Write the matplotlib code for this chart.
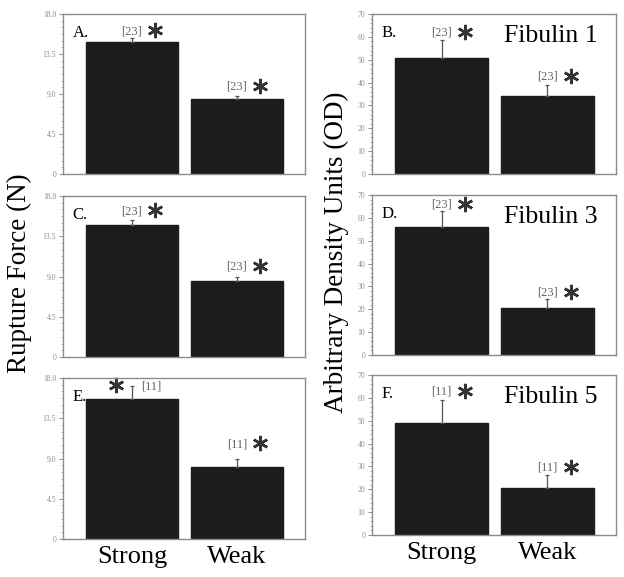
import matplotlib
matplotlib.use('Agg')
import matplotlib.pyplot as plt
from matplotlib.ticker import MultipleLocator, FixedLocator
from matplotlib.transforms import offset_copy

plt.rcParams['font.family'] = ['Liberation Serif', 'DejaVu Serif']

groups = ['Strong', 'Weak']

# rupture force (N), left column
force_a = [14.8, 8.4]
force_a_err = [0.5, 0.4]
force_c = [14.8, 8.5]
force_c_err = [0.5, 0.4]
force_e = [15.7, 8.1]
force_e_err = [1.4, 0.8]

# fibulin densities (OD), right column
fib1 = [50.7, 34.1]
fib1_err = [8.0, 5.0]
fib3 = [55.9, 20.7]
fib3_err = [7.0, 4.0]
fib5 = [49.1, 20.4]
fib5_err = [10.0, 6.0]

n_a = ['[23]', '[23]']
n_c = ['[23]', '[23]']
n_e = ['[11]', '[11]']
n_b = ['[23]', '[23]']
n_d = ['[23]', '[23]']
n_f = ['[11]', '[11]']

force_ticks = [0, 4.5, 9.0, 13.5, 18.0]
force_ticklabels = ['0', '4.5', '9.0', '13.5', '18.0']
od_ticks = [0, 10, 20, 30, 40, 50, 60, 70]

W, H = 624, 577
fig = plt.figure(figsize=(W / 100, H / 100), dpi=100)

def box(x0, top, x1, bottom):
    return [x0 / W, 1 - bottom / H, (x1 - x0) / W, (bottom - top) / H]

GRAY = '#8c8c8c'
BAR = '#1c1c1c'

def panel(rect, vals, errs, ns, letter, ymax, ticks, ticklabels, minor,
          title=None, star_left=False, offs=(5, 5), show_x=False):
    ax = fig.add_axes(rect)
    x = [0, 1]
    ax.bar(x, vals, width=0.876, color=BAR, edgecolor=BAR, zorder=2)
    ax.errorbar(x, vals, yerr=[[0, 0], errs], fmt='none', ecolor='#555555',
                elinewidth=0.9, capsize=1.5, capthick=0.9, zorder=3)
    ax.set_xlim(-0.657, 1.648)
    ax.set_ylim(0, ymax)
    ax.yaxis.set_major_locator(FixedLocator(ticks))
    ax.set_yticklabels(ticklabels)
    ax.yaxis.set_minor_locator(MultipleLocator(minor))
    ax.tick_params(axis='y', which='major', direction='out', length=3,
                   width=0.7, color=GRAY, labelsize=5.5, labelcolor=GRAY, pad=2)
    ax.tick_params(axis='y', which='minor', direction='out', length=1.5,
                   width=0.5, color=GRAY)
    ax.set_xticks(x)
    ax.tick_params(axis='x', length=0, pad=5)
    if show_x:
        ax.set_xticklabels(groups, fontsize=19)
    else:
        ax.set_xticklabels([])
    for s in ax.spines.values():
        s.set_color(GRAY)
        s.set_linewidth(1.0)
    ax.text(0.04, 0.88, letter, transform=ax.transAxes, fontsize=12,
            va='center', ha='left')
    if title:
        ax.text(0.925, 0.865, title, transform=ax.transAxes, fontsize=18.5,
                va='center', ha='right')
    for i in range(2):
        top = vals[i] + errs[i]
        if star_left and i == 0:
            nx_, sx = x[i] + 0.18, x[i] - 0.15
        else:
            nx_, sx = x[i], x[i] + 0.22
        ax.annotate(ns[i], (nx_, top), xytext=(0, offs[i]),
                    textcoords='offset points', ha='center', va='center',
                    fontsize=9, color='#666666')
        tr = offset_copy(ax.transData, fig=fig, x=0, y=offs[i] + 0.5,
                         units='points')
        ax.plot([sx], [top], transform=tr, marker=(6, 2, 0), markersize=11,
                mew=1.8, color='#333333', linestyle='none', clip_on=False)
    return ax

panel(box(63, 14, 305, 174), force_a, force_a_err, n_a, 'A.', 18,
      force_ticks, force_ticklabels, 0.75, offs=(5, 6.5))
panel(box(63, 196, 305, 357), force_c, force_c_err, n_c, 'C.', 18,
      force_ticks, force_ticklabels, 0.75, offs=(6.5, 7.5))
panel(box(63, 378, 305, 539), force_e, force_e_err, n_e, 'E.', 18,
      force_ticks, force_ticklabels, 0.75, star_left=True, offs=(0, 11),
      show_x=True)

od_labels = [str(t) for t in od_ticks]
panel(box(372, 14, 616, 174), fib1, fib1_err, n_b, 'B.', 70,
      od_ticks, od_labels, 2, title='Fibulin 1', offs=(5, 6))
panel(box(372, 195, 616, 355), fib3, fib3_err, n_d, 'D.', 70,
      od_ticks, od_labels, 2, title='Fibulin 3', offs=(4.5, 4.5))
panel(box(372, 375, 616, 535), fib5, fib5_err, n_f, 'F.', 70,
      od_ticks, od_labels, 2, title='Fibulin 5', show_x=True, offs=(6, 5))

fig.text(19 / W, 1 - 273 / H, 'Rupture Force (N)', rotation=90,
         fontsize=19.5, ha='center', va='center')
fig.text(336 / W, 1 - 252 / H, 'Arbitrary Density Units (OD)', rotation=90,
         fontsize=19.5, ha='center', va='center')

fig.savefig('out.png', dpi=100)
